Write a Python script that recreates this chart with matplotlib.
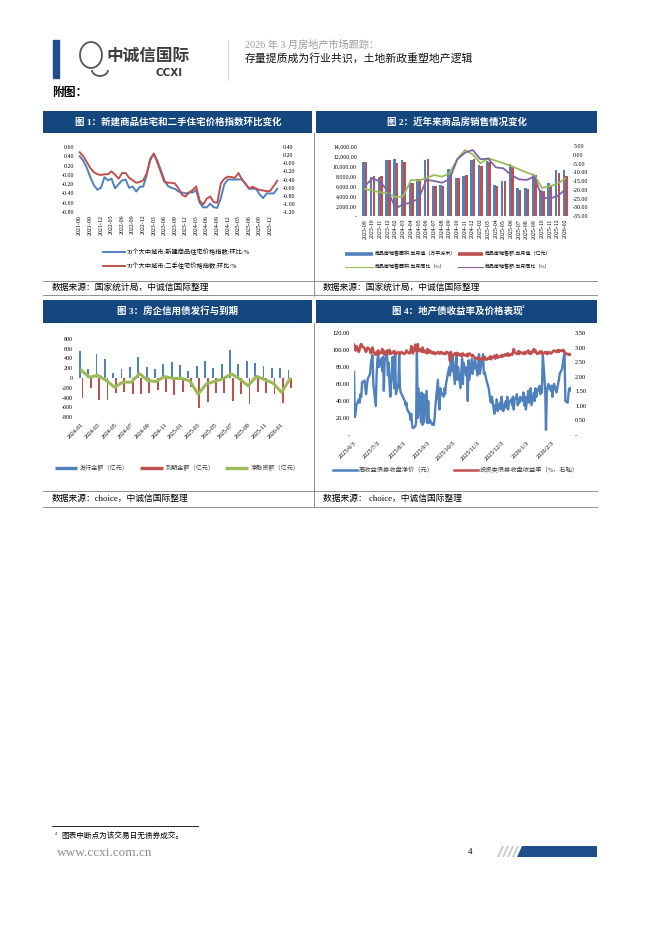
import numpy as np
import pandas as pd
import matplotlib
matplotlib.use('Agg')
import matplotlib.pyplot as plt
from matplotlib.patches import Rectangle, Polygon, Ellipse, Arc

plt.rcParams['font.family'] = ['Liberation Serif', 'Noto Sans CJK SC', 'DejaVu Sans']

W, H = 662, 936
BLUE = '#4F81BD'
RED = '#C0504D'
GREEN = '#9BBB59'
PURPLE = '#8064A2'
NAVY = '#15477f'

# ---- chart 1: 70-city price index, MoM % (2021-06 .. 2026-02)
months1 = pd.period_range('2021-06', periods=57, freq='M').strftime('%Y-%m').tolist()
new_mom = [0.40, 0.30, 0.15, -0.05, -0.22, -0.32, -0.28, -0.05, -0.12, -0.08,
           -0.29, -0.20, -0.12, -0.10, -0.28, -0.25, -0.36, -0.26, -0.25, 0.00,
           0.35, 0.45, 0.30, 0.10, -0.12, -0.24, -0.28, -0.30, -0.36, -0.38,
           -0.40, -0.38, -0.38, -0.33, -0.60, -0.70, -0.70, -0.62, -0.70, -0.71,
           -0.50, -0.20, -0.10, -0.10, -0.10, -0.10, -0.10, -0.20, -0.30, -0.30,
           -0.30, -0.42, -0.50, -0.40, -0.40, -0.40, -0.30]
used_mom = [0.27, 0.17, 0.03, -0.12, -0.22, -0.27, -0.29, -0.27, -0.27, -0.20,
            -0.28, -0.38, -0.24, -0.24, -0.36, -0.42, -0.48, -0.46, -0.42, -0.25,
            0.08, 0.24, 0.02, -0.22, -0.46, -0.48, -0.48, -0.50, -0.62, -0.78,
            -0.82, -0.72, -0.66, -0.57, -0.92, -1.02, -0.87, -0.82, -0.96, -0.97,
            -0.50, -0.38, -0.33, -0.34, -0.36, -0.24, -0.40, -0.50, -0.62, -0.58,
            -0.62, -0.66, -0.67, -0.69, -0.68, -0.56, -0.43]

# ---- chart 2: monthly sales
months2 = ['2023-09', '2023-10', '2023-11', '2023-12', '2024-02', '2024-03', '2024-04',
           '2024-05', '2024-06', '2024-07', '2024-08', '2024-09', '2024-10', '2024-11',
           '2024-12', '2025-02', '2025-03', '2025-04', '2025-05', '2025-06', '2025-07',
           '2025-08', '2025-09', '2025-10', '2025-11', '2025-12', '2026-02']
sales_area = [10800, 7750, 7900, 11200, 11350, 11250, 6600, 7400, 11300, 6100,
              6150, 9500, 7600, 8100, 11150, 10300, 11100, 6300, 7000, 10400,
              5700, 5700, 8400, 5300, 6600, 9300, 9200]
sales_amt = [10800, 8000, 8050, 11250, 10550, 10750, 6700, 7500, 11400, 6050,
             6100, 8900, 7700, 8150, 11350, 10100, 10750, 6100, 7000, 9850,
             5250, 5450, 8200, 5000, 6100, 8700, 8000]
area_yoy = [-19.5, -20.5, -21.5, -21.7, -24.3, -23.6, -14.4, -14.8, -13.3, -11.6,
            -12.5, -10.6, -2.4, 2.7, 0.2, -4.9, -2.0, -3.4, -4.9, -6.4,
            -8.3, -10.2, -11.6, -19.0, -17.9, -16.7, -13.5]
amt_yoy = [-17.9, -13.5, -15.4, -21.0, -30.6, -28.3, -27.4, -24.9, -14.4, -15.0,
           -16.0, -14.0, -2.6, 1.2, 2.7, -2.6, -2.2, -7.2, -7.8, -11.6,
           -14.0, -14.4, -12.5, -24.3, -25.0, -23.6, -20.0]

# ---- chart 3: developer credit bonds (2024-01 .. 2026-02)
months3 = pd.period_range('2024-01', periods=26, freq='M').strftime('%Y-%m').tolist()
issue = [550, 180, 500, 390, 100, 180, 230, 430, 230, 180, 290, 320, 270,
         150, 250, 345, 215, 290, 570, 290, 345, 310, 250, 200, 215, 165]
mature = [-400, -200, -460, -460, -300, -280, -320, -320, -300, -250, -280, -340, -280,
          -180, -610, -490, -300, -300, -480, -330, -530, -280, -300, -320, -520, -200]
net_fin = [160, 15, 55, -50, -190, -85, -85, 90, -55, -70, 30, -10, -10,
           -55, -330, -125, -70, -15, 85, -20, -160, 35, -35, -105, -295, -20]

# ---- chart 4: daily bond price / yield
hy_price = [74, 21, 26, 35, 42, 38, 48, 45, 62, 64,
            55, 48, 58, 66, 72, 85, 90, 94, 60, 34,
            70, 88, 95, 80, 90, 75, 92, 52, 88, 95,
            70, 85, 60, 45, 92, 70, 55, 95, 48, 60,
            95, 55, 50, 48, 42, 40, 35, 38, 30, 25,
            18, 25, 12, 8, 10, 15, 97, 20, 55, 15,
            50, 12, 48, 15, 52, 14, 40, 14, 18, 12,
            14, 12, 20, 35, 65, 40, 30, 55, 50, 45,
            55, 48, 60, 65, 80, 70, 88, 75, 92, 60,
            85, 95, 65, 80, 55, 75, 90, 60, 85, 70,
            80, 40, 88, 65, 90, 72, 85, 78, 90, 70,
            82, 95, 72, 78, 95, 72, 74, 70, 65, 55,
            48, 40, 38, 45, 25, 35, 30, 42, 28, 38,
            30, 45, 35, 28, 40, 32, 45, 30, 38, 42,
            35, 45, 30, 40, 48, 35, 42, 38, 45, 40,
            50, 35, 45, 30, 52, 38, 48, 55, 35, 50,
            40, 55, 45, 50, 58, 48, 55, 50, 95, 55,
            6, 50, 55, 60, 52, 58, 45, 55, 60, 50,
            55, 60, 65, 72, 78, 85, 92, 96, 40, 38,
            50, 55, 52, 55]
ig_yield = [3.10, 2.95, 2.90, 3.05, 2.85, 2.95, 3.08, 3.12, 3.05, 2.98,
            2.90, 2.85, 2.95, 3.00, 2.90, 2.80, 2.95, 3.00, 2.85, 2.75,
            2.85, 2.80, 2.90, 2.78, 2.85, 2.95, 2.80, 2.88, 2.75, 2.90,
            2.85, 2.80, 2.92, 2.78, 2.85, 2.80, 2.88, 2.82, 2.78, 2.85,
            2.80, 2.78, 2.82, 2.85, 2.78, 2.80, 2.82, 2.90, 2.85, 2.80,
            2.85, 3.05, 2.90, 2.80, 3.10, 2.95, 2.85, 3.12, 2.88, 2.95,
            2.85, 3.00, 2.85, 2.90, 2.80, 2.95, 2.85, 2.82, 2.90, 2.80,
            2.85, 2.80, 2.82, 2.78, 2.85, 2.80, 2.82, 2.80, 2.85, 2.78,
            2.80, 2.82, 2.78, 2.85, 2.80, 2.55, 2.85, 2.75, 2.70, 2.80,
            2.78, 2.82, 2.75, 2.80, 2.72, 2.78, 2.70, 2.80, 2.75, 2.72,
            2.78, 2.70, 2.75, 2.80, 2.72, 2.75, 2.70, 2.68, 2.62, 2.65,
            2.60, 2.65, 2.62, 2.58, 2.65, 2.60, 2.68, 2.62, 2.58, 2.65,
            2.62, 2.70, 2.60, 2.65, 2.72, 2.62, 2.68, 2.75, 2.65, 2.70,
            2.72, 2.68, 2.75, 2.70, 2.78, 2.72, 2.75, 2.80, 2.72, 2.78,
            2.75, 2.82, 2.95, 2.85, 2.78, 2.82, 2.88, 2.78, 2.85, 2.80,
            2.82, 2.78, 2.85, 2.80, 2.90, 2.82, 2.78, 2.85, 2.80, 2.95,
            2.85, 2.90, 2.82, 2.78, 2.85, 2.80, 2.88, 2.82, 2.78, 2.85,
            2.80, 2.82, 2.78, 2.85, 2.80, 2.82, 2.85, 2.88, 2.90, 2.85,
            2.88, 2.92, 2.85, 2.90, 2.88, 2.92, 2.90, 2.85, 2.80, 2.78,
            2.75, 2.78, 2.75, 2.76]
dates4 = pd.bdate_range('2025-06-03', periods=len(hy_price))
ticks4 = pd.to_datetime(['2025-06-03', '2025-07-03', '2025-08-03', '2025-09-03',
                         '2025-10-03', '2025-11-03', '2025-12-03', '2026-01-03',
                         '2026-02-03'])


fig = plt.figure(figsize=(W / 100, H / 100), dpi=100)
bg = fig.add_axes([0, 0, 1, 1])
bg.set_xlim(0, W)
bg.set_ylim(H, 0)
bg.axis('off')


def box(x0, y0, x1, y1):
    return fig.add_axes([x0 / W, 1 - y1 / H, (x1 - x0) / W, (y1 - y0) / H])


def clean(ax, size=4.3):
    for s in ax.spines.values():
        s.set_visible(False)
    ax.tick_params(length=0, labelsize=size, pad=3)
    ax.patch.set_alpha(0)


def hline(x0, x1, y, color='#7f7f7f', lw=0.6):
    bg.plot([x0, x1], [y, y], color=color, lw=lw)


def vline(x, y0, y1, color='#7f7f7f', lw=0.6):
    bg.plot([x, x], [y0, y1], color=color, lw=lw)


# ---- page header
bg.add_patch(Rectangle((53, 40), 6, 38, color='#1f4e8c'))
bg.add_patch(Ellipse((91, 55), 22, 26, fill=False, ec='#555555', lw=1.3))
bg.add_patch(Arc((100, 70), 16, 12, theta1=0, theta2=180, ec='#555555', lw=1.3))
bg.text(107, 57, '中诚信国际', fontsize=12, fontweight='bold', color='#3c3c3c',
        va='center', ha='left')
bg.text(183, 73, 'CCXI', fontsize=7.5, fontweight='bold', color='#3c3c3c',
        va='center', ha='right', family='DejaVu Sans')
vline(228, 40, 80, color='#dddddd', lw=0.8)
bg.text(245, 45, '2026 年 3 月房地产市场跟踪：', fontsize=7.3, color='#9a9a9a', va='center')
bg.text(245, 58, '存量提质成为行业共识，土地新政重塑地产逻辑', fontsize=7.8, color='#111111',
        va='center')
bg.text(52, 93, '附图：', fontsize=8.5, fontweight='bold', va='center')

# ---- panel frames
for (x0, x1) in [(43, 312), (316, 597)]:
    bg.add_patch(Rectangle((x0, 111), x1 - x0, 22, color=NAVY, lw=0))
    bg.add_patch(Rectangle((x0, 300), x1 - x0, 23, color=NAVY, lw=0))
bg.text(178, 122, '图 1：新建商品住宅和二手住宅价格指数环比变化', color='white',
        fontsize=6.8, fontweight='bold', ha='center', va='center')
bg.text(457, 122, '图 2：近年来商品房销售情况变化', color='white',
        fontsize=6.8, fontweight='bold', ha='center', va='center')
bg.text(178, 311, '图 3：房企信用债发行与到期', color='white',
        fontsize=6.8, fontweight='bold', ha='center', va='center')
bg.text(457, 311, '图 4：地产债收益率及价格表现', color='white',
        fontsize=6.8, fontweight='bold', ha='center', va='center')
bg.text(522, 307, '2', color='white', fontsize=3.8, fontweight='bold', ha='left', va='center')

vline(314, 133, 296)
vline(314, 323, 507)
hline(43, 597, 281)
hline(43, 597, 295)
hline(43, 597, 491)
hline(43, 597, 507)
bg.text(52, 288, '数据来源：国家统计局，中诚信国际整理', fontsize=6.3, va='center')
bg.text(323, 288, '数据来源：国家统计局，中诚信国际整理', fontsize=6.3, va='center')
bg.text(52, 499, '数据来源：choice，中诚信国际整理', fontsize=6.3, va='center')
bg.text(323, 499, '数据来源： choice，中诚信国际整理', fontsize=6.3, va='center')

# ---- chart 1
x1 = np.arange(len(months1))
ax = box(78, 147, 279, 212)
ax.plot(x1, new_mom, color=BLUE, lw=1.4)
ax.set_xlim(-0.5, len(months1) - 0.5)
ax.set_ylim(-0.8, 0.6)
t = np.round(np.arange(-0.8, 0.61, 0.2), 2)
ax.set_yticks(t, ['-0.00' if v == 0 else f'{v:.2f}' for v in t])
ax.set_xticks(x1[::3], months1[::3], rotation=90)
clean(ax)
ax.tick_params(axis='x', pad=2)
ax2 = ax.twinx()
ax2.plot(x1, used_mom, color=RED, lw=1.4)
ax2.set_ylim(-1.2, 0.4)
t = np.round(np.arange(-1.2, 0.41, 0.2), 2)
ax2.set_yticks(t, [f'{v:.2f}' for v in t])
clean(ax2)

bg.plot([103, 125], [252, 252], color=BLUE, lw=1.4)
bg.text(127, 252, '70个大中城市:新建商品住宅价格指数:环比:%', fontsize=4.5, va='center')
bg.plot([103, 125], [266, 266], color=RED, lw=1.4)
bg.text(127, 266, '70个大中城市:二手住宅价格指数:环比:%', fontsize=4.5, va='center')

# ---- chart 2
x2 = np.arange(len(months2))
ax = box(361, 146, 569, 216)
ax.bar(x2 - 0.17, sales_area, 0.32, color=BLUE)
ax.bar(x2 + 0.17, sales_amt, 0.32, color=RED)
ax.set_xlim(-0.5, len(months2) - 0.5)
ax.set_ylim(0, 14000)
t = np.arange(0, 14001, 2000)
ax.set_yticks(t, ['-' if v == 0 else f'{v:,.2f}' for v in t])
ax.set_xticks(x2, months2, rotation=90)
clean(ax, 4.2)
ax.tick_params(axis='x', pad=2)
ax2 = ax.twinx()
ax2.plot(x2, area_yoy, color=GREEN, lw=1.3)
ax2.plot(x2, amt_yoy, color=PURPLE, lw=1.3)
ax2.set_ylim(-35, 5)
t = np.arange(-35, 6, 5)
ax2.set_yticks(t, [f'{v:.2f}' for v in t])
clean(ax2, 4.2)

bg.plot([345, 373], [254, 254], color=BLUE, lw=2.6, solid_capstyle='butt')
bg.text(375, 254, '商品房销售面积:当月值（万平方米）', fontsize=3.6, va='center')
bg.plot([458, 483], [254, 254], color=RED, lw=2.6, solid_capstyle='butt')
bg.text(485, 254, '商品房销售额:当月值（亿元）', fontsize=3.6, va='center')
bg.plot([345, 373], [267, 267], color=GREEN, lw=0.8)
bg.text(375, 267, '商品房销售面积:当月同比（%）', fontsize=3.6, va='center')
bg.plot([458, 483], [267, 267], color=PURPLE, lw=0.8)
bg.text(485, 267, '商品房销售额:当月同比（%）', fontsize=3.6, va='center')

# ---- chart 3
x3 = np.arange(len(months3))
ax = box(77, 339, 294, 417)
ax.bar(x3 - 0.16, issue, 0.22, color=BLUE)
ax.bar(x3 + 0.16, mature, 0.22, color=RED)
ax.plot(x3, net_fin, color=GREEN, lw=2.2)
ax.set_xlim(-0.5, len(months3) - 0.5)
ax.set_ylim(-800, 800)
t = np.arange(-800, 801, 200)
ax.set_yticks(t, [str(v) for v in t])
ax.set_xticks(x3[::2], months3[::2], rotation=45, ha='right', va='top',
              rotation_mode='anchor')
clean(ax)
ax.tick_params(axis='x', pad=4)

bg.plot([55, 77], [468, 468], color=BLUE, lw=2.4, solid_capstyle='butt')
bg.text(80, 468, '发行金额（亿元）', fontsize=4.4, va='center', color='#404040')
bg.plot([140, 163], [468, 468], color=RED, lw=2.4, solid_capstyle='butt')
bg.text(166, 468, '到期金额（亿元）', fontsize=4.4, va='center', color='#404040')
bg.plot([225, 248], [468, 468], color=GREEN, lw=2.4, solid_capstyle='butt')
bg.text(251, 468, '净融资额（亿元）', fontsize=4.4, va='center', color='#404040')

# ---- chart 4
ax = box(354, 333, 571, 435)
ax.plot(dates4, hy_price, color=BLUE, lw=1.7)
ax.set_xlim(dates4[0], dates4[-1])
ax.set_ylim(0, 120)
t = np.arange(0, 121, 20)
ax.set_yticks(t, ['-' if v == 0 else f'{v:.2f}' for v in t])
ax.set_xticks(ticks4, [f'{d.year}/{d.month}/{d.day}' for d in ticks4], rotation=45,
              ha='right', va='top', rotation_mode='anchor')
clean(ax, 4.6)
ax.tick_params(axis='x', pad=4)
ax2 = ax.twinx()
ax2.plot(dates4, ig_yield, color=RED, lw=1.9)
ax2.set_ylim(0, 3.5)
t = np.arange(0, 3.51, 0.5)
ax2.set_yticks(t, ['-' if v == 0 else f'{v:.2f}' for v in t])
clean(ax2, 4.6)

bg.plot([333, 357], [470, 470], color=BLUE, lw=1.8)
bg.text(359, 470, '高收益债券收盘净价（元）', fontsize=4.5, va='center', color='#404040')
bg.plot([454, 478], [470, 470], color=RED, lw=1.8)
bg.text(480, 470, '投资类债券收盘收益率（%，右轴）', fontsize=4.5, va='center', color='#404040')

# ---- footer
hline(52, 198, 826, color='black', lw=0.6)
bg.text(55, 834, '2', fontsize=3.5, va='center')
bg.text(61, 837, '图表中断点为该交易日无债券成交。', fontsize=5.5, va='center')
bg.text(57, 853, 'www.ccxi.com.cn', fontsize=9.5, color='#8c8c8c', va='center')
bg.text(470, 852, '4', fontsize=6.5, va='center', ha='center')
for xs in [497, 502, 507, 512]:
    bg.add_patch(Polygon([(xs, 857), (xs + 5, 846), (xs + 7, 846), (xs + 2, 857)],
                         color='#c8c8c8', lw=0))
bg.add_patch(Polygon([(517, 857), (522, 846), (597, 846), (597, 857)], color='#1f4e8c', lw=0))

fig.savefig('out.png', dpi=100)
